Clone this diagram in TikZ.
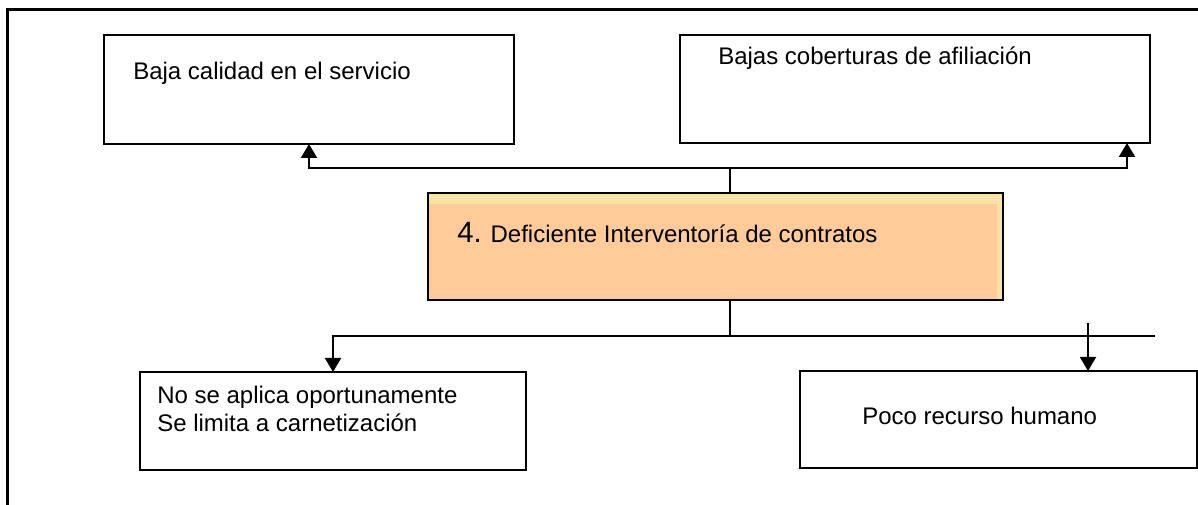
\documentclass[tikz,border=0pt]{standalone}
\usepackage{fontspec}
\setmainfont{Liberation Sans}
\usetikzlibrary{arrows.meta}
\definecolor{naranja}{RGB}{255,204,153}
\definecolor{amarillo}{RGB}{247,228,163}
\tikzset{
  caja/.style={draw, line width=1.5pt, rectangle, inner sep=0pt, outer sep=0pt},
  linea/.style={line width=1.5pt},
  flecha/.style={line width=1.5pt, -{Triangle[width=12pt,length=10.5pt]}},
  texto/.style={anchor=west, inner sep=0pt, font=\fontsize{18}{21}\selectfont, align=left}
}
\begin{document}
\begin{tikzpicture}[x=0.75pt,y=0.75pt,yscale=-1,xscale=1]
\useasboundingbox (0,0) rectangle (1198,505);
% marco exterior
\draw[line width=2.25pt] (7,505) -- (7,10) -- (1198,10);
% Cajas
\node[caja, minimum width=307.5pt, minimum height=81.75pt] (calidad) at (309,89.5) {};
\node[caja, minimum width=352.5pt, minimum height=81pt] (cobertura) at (915,89) {};
\node[caja, fill=amarillo, minimum width=431.25pt, minimum height=80.25pt] (deficiente) at (715.5,246.5) {};
\fill[naranja] (429,204) rectangle (997,299);
\draw[line width=1.5pt] (deficiente.north west) rectangle (deficiente.south east);
\node[caja, minimum width=289.5pt, minimum height=73.5pt] (oportuna) at (333,421) {};
\node[caja, minimum width=297.75pt, minimum height=72.75pt] (recurso) at (998.5,419.5) {};
% Text Node
\node[texto] (calidadtxt) at (133,73) {Baja calidad en el servicio};
\node[texto] (coberturatxt) at (718,58) {Bajas coberturas de afiliación};
\node[texto] (deficientetxt) at (457,233) {{\fontsize{22}{24}\selectfont 4.} Deficiente Interventoría de contratos};
\node[texto] (oportunatxt) at (157,409) {No se aplica oportunamente\\Se limita a carnetización};
\node[texto] (recursotxt) at (862,416) {Poco recurso humano};
% conectores
\coordinate (ramaarriba) at (730,168);
\coordinate (ramaabajo) at (730,336);
\coordinate (finlinea) at (1155,336);
\coordinate (flechaini) at (1088,323);
\draw[linea] (ramaarriba |- deficiente.north) -- (ramaarriba);
\draw[flecha] (ramaarriba) -| (calidad.south);
\draw[flecha] (ramaarriba) -| ([xshift=-17.25pt]cobertura.south east);
\draw[linea] (ramaabajo |- deficiente.south) -- (ramaabajo);
\draw[flecha] (ramaabajo) -| (oportuna.north);
\draw[linea] (ramaabajo) -- (finlinea);
\draw[flecha] (flechaini) -- (flechaini |- recurso.north);
\end{tikzpicture}
\end{document}
